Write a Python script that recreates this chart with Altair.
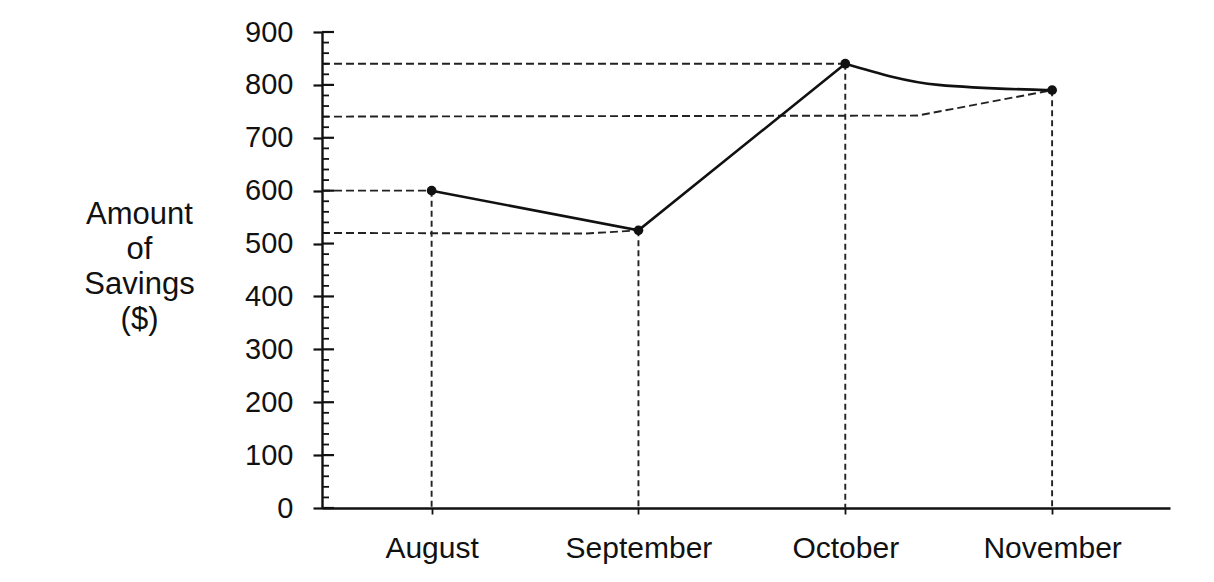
import altair as alt
import pandas as pd

# ---- data ----
months = ["August", "September", "October", "November"]
savings = [600, 525, 840, 790]

# shape of the drawn solid line between October and November
bend_x = [2, 2.45, 3]
bend_y = [840, 800, 790]

# dashed guide lines (guide id, x position in month-index units, value)
guide_ids = ["g1", "g1", "g2", "g2", "g2", "g3", "g3", "g4", "g4", "g4"]
guide_x = [-0.53, 0, -0.53, 0.75, 1, -0.53, 2, -0.53, 2.35, 3]
guide_y = [600, 600, 520, 519, 525, 840, 840, 740, 742, 790]

y_major = [0, 100, 200, 300, 400, 500, 600, 700, 800, 900]
y_minor = [v for v in range(0, 901, 20) if v % 100 != 0]

X_MIN, X_MAX = -0.53, 3.57
FONT = "Liberation Sans"
INK = "#111111"
DASH = "#222222"

pts = pd.DataFrame({"idx": list(range(len(months))), "month": months, "value": savings})
first = pts.iloc[:3]
bend = pd.DataFrame({"idx": bend_x, "value": bend_y})
guides = pd.DataFrame({"g": guide_ids, "x": guide_x, "y": guide_y})
major = pd.DataFrame({"v": y_major})
minor = pd.DataFrame({"v": y_minor})

label_expr = "[" + ",".join("'" + m + "'" for m in months) + "][datum.value]"

x_scale = alt.Scale(domain=[X_MIN, X_MAX], nice=False, zero=False)
y_scale = alt.Scale(domain=[0, 900], nice=False)

x_enc = alt.X(
    "idx:Q", scale=x_scale,
    axis=alt.Axis(values=list(range(len(months))), labelExpr=label_expr, title=None,
                  grid=False, labelFontSize=30, labelFont=FONT, labelColor=INK,
                  labelPadding=19, tickSize=6, tickWidth=1.8, tickColor=INK,
                  domainColor=INK, domainWidth=2.4, labelFlush=False),
)
y_enc = alt.Y(
    "value:Q", scale=y_scale,
    axis=alt.Axis(values=y_major, grid=False, labelFontSize=29, labelFont=FONT,
                  labelColor=INK, labelPadding=20, tickSize=9, tickWidth=2.2,
                  tickColor=INK, domainColor=INK, domainWidth=2.4,
                  title=["Amount", "of", "Savings", "($)"], titleAngle=0,
                  titleX=-183, titleY=191, titleAlign="center",
                  titleBaseline="alphabetic", titleFontSize=31, titleFont=FONT,
                  titleFontWeight="normal", titleColor=INK, titleLineHeight=35),
)

base = alt.Chart(pts)

vert = base.mark_rule(color=DASH, strokeWidth=1.9, strokeDash=[6, 4]).encode(
    x=x_enc, y=y_enc, y2=alt.datum(0)
)

hguides = alt.Chart(guides).mark_line(color=DASH, strokeWidth=1.9, strokeDash=[8, 4]).encode(
    x=alt.X("x:Q", scale=x_scale), y=alt.Y("y:Q", scale=y_scale), detail="g:N"
)

line1 = alt.Chart(first).mark_line(color=INK, strokeWidth=2.6).encode(x="idx:Q", y="value:Q")
line2 = alt.Chart(bend).mark_line(color=INK, strokeWidth=2.6, interpolate="monotone").encode(
    x=alt.X("idx:Q", scale=x_scale), y=alt.Y("value:Q", scale=y_scale)
)
dots = base.mark_circle(color=INK, size=95, opacity=1).encode(x="idx:Q", y="value:Q")

major_in = alt.Chart(major).mark_rule(color=INK, strokeWidth=2.2).encode(
    y=alt.Y("v:Q", scale=y_scale), x=alt.value(0), x2=alt.value(12)
)
minor_in = alt.Chart(minor).mark_rule(color=INK, strokeWidth=1.8).encode(
    y=alt.Y("v:Q", scale=y_scale), x=alt.value(0), x2=alt.value(7)
)

chart = alt.layer(vert, hguides, line1, line2, dots, major_in, minor_in).properties(
    width=848, height=476,
    autosize=alt.AutoSizeParams(type="none"),
    padding={"left": 314, "top": 24, "right": 36, "bottom": 66},
    background="white",
).configure_view(stroke=None)

chart.save("out.html", embed_options={"renderer": "svg", "actions": False})
